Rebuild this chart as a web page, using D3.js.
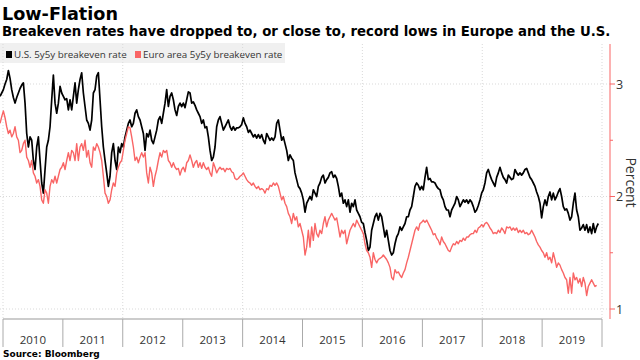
<!DOCTYPE html>
<html><head><meta charset="utf-8">
<script src="https://cdn.jsdelivr.net/npm/d3@7"></script>
<style>body{margin:0;background:#fff} svg{display:block}</style>
</head><body><svg id="c" width="640" height="360"></svg>
<script>
// ---- data ----
const startDate = "2009-12-14";   // first observation
const stepDays = 10.16;           // spacing of the sampled observations
const usRate = [
2.89,2.92,2.95,3.00,3.04,3.12,3.05,2.95,2.88,2.83,2.88,2.92,2.96,2.99,3.01,2.83,2.56,2.44,2.53,2.50,
2.32,2.24,2.44,2.53,2.32,2.12,2.03,2.24,2.44,2.50,2.62,2.86,3.08,2.83,2.74,2.83,2.98,2.92,2.89,2.86,
2.87,2.77,2.86,2.77,2.89,3.01,2.83,2.95,3.04,3.10,2.92,2.80,2.68,2.65,2.59,2.68,2.92,2.95,3.07,3.10,
2.86,2.62,2.44,2.32,2.21,2.09,2.18,2.39,2.47,2.32,2.24,2.44,2.39,2.47,2.44,2.53,2.59,2.65,2.68,2.62,
2.65,2.74,2.77,2.71,2.68,2.62,2.56,2.41,2.56,2.53,2.59,2.50,2.47,2.53,2.59,2.68,2.71,2.65,2.74,2.83,
2.95,2.80,2.89,2.92,2.86,2.77,2.72,2.80,2.83,2.80,2.83,2.79,2.86,2.93,2.92,2.83,2.84,2.81,2.77,2.74,
2.71,2.65,2.68,2.61,2.62,2.53,2.41,2.32,2.35,2.44,2.62,2.68,2.71,2.65,2.59,2.62,2.65,2.68,2.62,2.59,
2.62,2.59,2.61,2.61,2.62,2.64,2.70,2.65,2.62,2.57,2.59,2.56,2.53,2.55,2.52,2.55,2.52,2.55,2.50,2.47,
2.56,2.53,2.50,2.52,2.50,2.53,2.65,2.68,2.59,2.50,2.53,2.47,2.41,2.32,2.37,2.34,2.32,2.21,2.15,2.09,
2.07,2.03,1.97,
1.86,1.94,1.97,2.00,1.97,2.06,2.03,2.00,2.09,2.12,2.17,2.19,2.12,2.15,2.17,2.21,2.22,2.17,2.19,2.16,
2.09,2.00,2.03,1.94,1.97,1.91,1.97,1.86,1.94,1.91,1.97,1.88,1.85,1.82,1.77,1.76,1.68,1.61,1.52,1.55,
1.70,1.76,1.82,1.85,1.79,1.85,1.82,1.73,1.64,1.70,1.61,1.52,1.48,1.50,1.58,1.64,1.67,1.73,1.70,1.73,
1.76,1.82,1.82,1.88,1.91,2.00,2.09,2.12,2.10,2.06,2.09,2.06,2.17,2.26,2.15,2.16,2.13,2.13,2.12,2.09,
2.07,2.06,2.00,1.97,1.91,1.88,1.88,1.82,1.88,1.91,1.94,2.00,1.97,1.91,1.94,1.97,1.95,1.97,1.94,1.97,
1.95,1.91,1.86,1.88,1.92,1.97,2.03,2.06,2.12,2.21,2.24,2.19,2.15,2.12,2.09,2.17,2.21,2.26,2.21,2.17,
2.15,2.12,2.19,2.17,2.15,2.16,2.24,2.21,2.19,2.21,2.19,2.21,2.24,2.25,2.21,2.17,2.15,2.12,2.09,2.04,
2.00,1.94,1.81,1.91,1.97,1.92,2.00,2.04,1.97,2.03,1.97,2.00,2.04,2.07,2.00,1.91,1.88,1.89,1.85,1.79,
1.82,1.94,2.03,1.88,1.82,1.70,1.72,1.75,1.70,1.75,1.68,1.73,1.67,1.76,1.68,1.73,1.76
];
const euroRate = [
2.65,2.71,2.76,2.70,2.62,2.56,2.59,2.53,2.56,2.62,2.53,2.50,2.39,2.41,2.47,2.50,2.35,2.32,2.26,2.32,
2.21,2.18,2.12,2.15,2.09,1.97,1.94,2.06,2.03,1.94,2.09,2.15,2.12,2.18,2.12,2.18,2.24,2.26,2.30,2.24,
2.32,2.39,2.32,2.41,2.39,2.32,2.47,2.32,2.44,2.47,2.41,2.50,2.35,2.41,2.30,2.26,2.44,2.41,2.47,2.44,
2.39,2.32,2.18,2.03,2.00,1.94,1.97,2.06,2.12,2.09,2.21,2.26,2.30,2.32,2.41,2.50,2.56,2.62,2.61,2.53,
2.44,2.32,2.35,2.30,2.35,2.39,2.35,2.39,2.21,2.12,2.26,2.21,2.09,2.18,2.24,2.32,2.39,2.35,2.41,2.39,
2.41,2.32,2.30,2.26,2.30,2.26,2.24,2.25,2.19,2.24,2.26,2.22,2.30,2.32,2.37,2.32,2.26,2.30,2.32,2.26,
2.30,2.25,2.30,2.26,2.24,2.26,2.21,2.18,2.30,2.26,2.21,2.24,2.26,2.24,2.25,2.22,2.25,2.24,2.25,2.22,
2.21,2.16,2.15,2.16,2.18,2.19,2.21,2.18,2.15,2.13,2.12,2.10,2.12,2.09,2.07,2.09,2.06,2.07,2.06,2.03,
2.07,2.06,2.10,2.09,2.12,2.10,2.12,2.09,2.03,1.97,2.00,1.94,1.91,1.85,1.82,1.76,1.85,1.79,1.82,1.73,
1.76,1.70,1.64,
1.48,1.55,1.70,1.55,1.73,1.61,1.76,1.67,1.64,1.70,1.67,1.76,1.82,1.73,1.79,1.82,1.85,1.82,1.79,1.81,
1.73,1.64,1.70,1.67,1.70,1.58,1.64,1.70,1.73,1.76,1.73,1.79,1.76,1.73,1.70,1.67,1.58,1.52,1.50,1.46,
1.37,1.50,1.44,1.41,1.44,1.45,1.46,1.48,1.46,1.44,1.41,1.37,1.28,1.26,1.35,1.32,1.33,1.30,1.28,1.32,
1.35,1.41,1.46,1.52,1.58,1.64,1.70,1.73,1.70,1.76,1.77,1.79,1.77,1.79,1.76,1.73,1.70,1.66,1.67,1.63,
1.61,1.57,1.64,1.60,1.58,1.55,1.52,1.51,1.55,1.58,1.57,1.60,1.58,1.61,1.60,1.63,1.61,1.64,1.64,1.66,
1.67,1.67,1.70,1.68,1.72,1.73,1.75,1.73,1.76,1.77,1.75,1.72,1.70,1.67,1.68,1.67,1.70,1.68,1.72,1.70,
1.67,1.73,1.72,1.73,1.70,1.72,1.70,1.72,1.68,1.70,1.68,1.70,1.67,1.68,1.66,1.67,1.70,1.67,1.64,1.60,
1.57,1.55,1.52,1.50,1.46,1.50,1.44,1.46,1.41,1.50,1.44,1.37,1.41,1.39,1.35,1.32,1.28,1.26,1.14,1.28,
1.14,1.32,1.26,1.28,1.23,1.27,1.20,1.28,1.23,1.12,1.20,1.23,1.26,1.23,1.20,1.21
];
const years = [2010,2011,2012,2013,2014,2015,2016,2017,2018,2019];
const gridYears = [2010,2012,2014,2016,2018,2020];
const yTicks = [1,1.5,2,2.5,3];
const yLabels = [1,2,3];
const seriesNames = ["U.S. 5y5y breakeven rate","Euro area 5y5y breakeven rate"];
const seriesColors = ["#000000","#f96565"];
const titleText = "Low-Flation";
const subtitleText = "Breakeven rates have dropped to, or close to, record lows in Europe and the U.S.";
const sourceText = "Source: Bloomberg";
const axisTitle = "Percent";

// ---- drawing ----
const svg = d3.select("#c");
const t0 = d3.timeParse("%Y-%m-%d")(startDate);
const dateAt = i => new Date(+t0 + i*stepDays*864e5);

const x = d3.scaleTime().domain([new Date(2010,0,1), new Date(2020,0,1)]).range([3,602]);
const y = d3.scaleLinear().domain([1,3]).range([309,84]);
const plotTop = 44, axisY = 319, redX = 610;

// title / subtitle
const title = svg.append("text").attr("x",2).attr("y",20).text(titleText)
  .attr("font-family","DejaVu Sans").attr("font-weight","bold").attr("font-size",18).attr("fill","#000");
const fit = (sel, w, base) => { const l = sel.node().getComputedTextLength(); sel.attr("font-size", base*w/l); };
fit(title,116,18);
const sub = svg.append("text").attr("x",2).attr("y",36).text(subtitleText)
  .attr("font-family","DejaVu Sans").attr("font-weight","bold").attr("font-size",12.5).attr("fill","#000");
fit(sub,609,12.5);

// legend
svg.append("rect").attr("x",0).attr("y",43).attr("width",285).attr("height",20).attr("fill","#f0f0f0");
const legX = [6,135];
seriesNames.forEach((n,i)=>{
  svg.append("rect").attr("x",legX[i]).attr("y",51).attr("width",6).attr("height",7).attr("fill",seriesColors[i]);
  svg.append("text").attr("x",legX[i]+8).attr("y",57.5).text(n)
    .attr("font-family","Open Sans").attr("font-size",9.8).attr("fill","#333");
});

// gridlines
svg.append("g").selectAll("line").data(yLabels).join("line")
  .attr("x1",0).attr("x2",redX).attr("y1",d=>y(d)).attr("y2",d=>y(d))
  .attr("stroke","#d9d9d9").attr("stroke-dasharray","1,2");
svg.append("g").selectAll("line").data(gridYears).join("line")
  .attr("x1",d=>x(new Date(d,0,1))).attr("x2",d=>x(new Date(d,0,1)))
  .attr("y1",plotTop).attr("y2",axisY)
  .attr("stroke","#d9d9d9").attr("stroke-dasharray","1,2");

// x axis
svg.append("line").attr("x1",x(new Date(2010,0,1))).attr("x2",x(new Date(2020,0,1)))
  .attr("y1",axisY).attr("y2",axisY).attr("stroke","#999");
svg.append("g").selectAll("line").data(years.concat([2020])).join("line")
  .attr("x1",d=>x(new Date(d,0,1))).attr("x2",d=>x(new Date(d,0,1)))
  .attr("y1",axisY).attr("y2",347).attr("stroke","#aaa");
svg.append("g").selectAll("text").data(years).join("text")
  .attr("x",d=>x(new Date(d,6,2))).attr("y",344).attr("text-anchor","middle")
  .attr("font-family","Open Sans").attr("font-size",11.5).attr("fill","#333").text(d=>d);

// right axis
svg.append("line").attr("x1",redX).attr("x2",redX).attr("y1",plotTop).attr("y2",axisY)
  .attr("stroke",seriesColors[1]).attr("stroke-width",1);
svg.append("g").selectAll("line").data(yTicks).join("line")
  .attr("x1",redX).attr("x2",d=>Number.isInteger(d)?615:613).attr("y1",d=>y(d)).attr("y2",d=>y(d))
  .attr("stroke",seriesColors[1]);
svg.append("g").selectAll("text").data(yLabels).join("text")
  .attr("x",616).attr("y",d=>y(d)+4.5).attr("font-family","Open Sans").attr("font-size",12.5)
  .attr("fill","#333").text(d=>d);
svg.append("text").attr("transform","translate(626,182.5) rotate(90)").attr("text-anchor","middle")
  .attr("font-family","Open Sans").attr("font-size",14).attr("fill","#333").text(axisTitle);

// lines
const line = d3.line().x((d,i)=>x(dateAt(i))).y(d=>y(d));
svg.append("path").datum(usRate).attr("d",line).attr("fill","none")
  .attr("stroke",seriesColors[0]).attr("stroke-width",1.7).attr("stroke-linejoin","round");
svg.append("path").datum(euroRate).attr("d",line).attr("fill","none")
  .attr("stroke",seriesColors[1]).attr("stroke-width",1.4).attr("stroke-linejoin","round");

// source
const src = svg.append("text").attr("x",3).attr("y",357).text(sourceText)
  .attr("font-family","DejaVu Sans").attr("font-weight","bold").attr("font-size",9.5).attr("fill","#000");
fit(src,97,9.5);
</script></body></html>
